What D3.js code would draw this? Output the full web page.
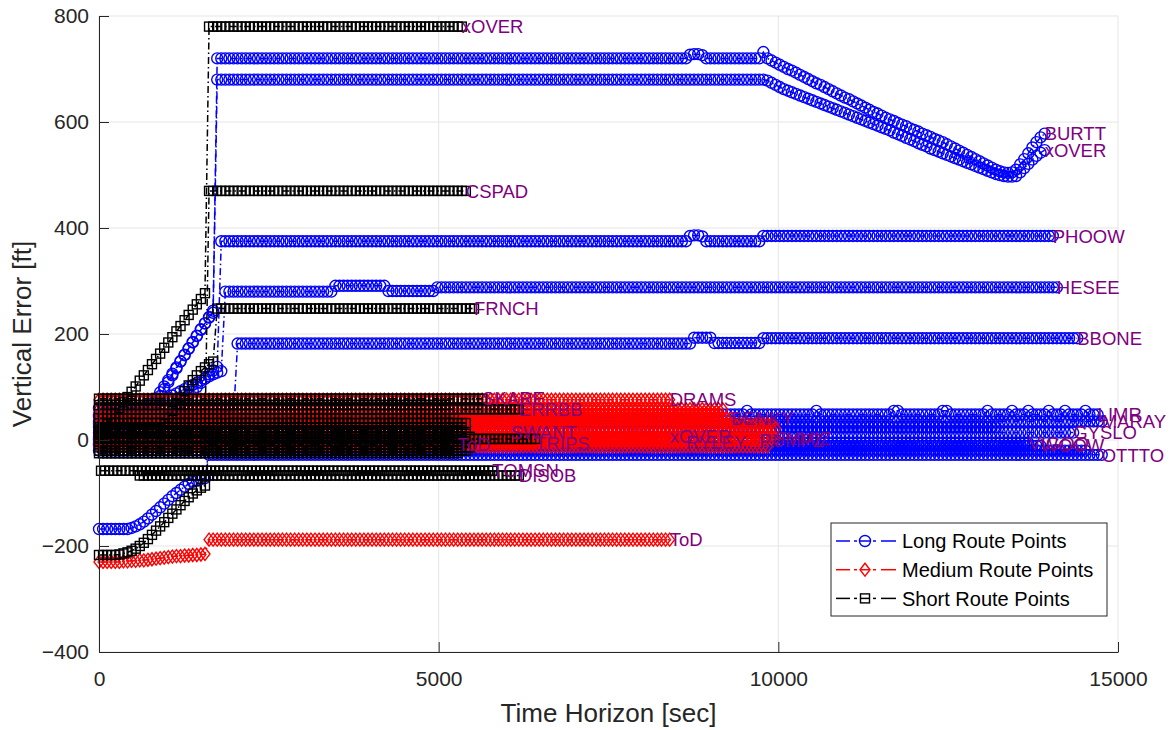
<!DOCTYPE html>
<html><head><meta charset="utf-8">
<script src="https://cdn.jsdelivr.net/npm/d3@7"></script>
<style>body{margin:0;background:#fff} text{font-family:"Liberation Sans",Arial,Helvetica,sans-serif}</style>
</head><body><svg id="c" width="1175" height="730"></svg>
<script>
// ---------- ticks & labels ----------
const xTicks = [0, 5000, 10000, 15000];
const yTicks = [-400, -200, 0, 200, 400, 600, 800];
const xTitle = "Time Horizon [sec]";
const yTitle = "Vertical Error [ft]";
const routeNames = ["Long Route Points", "Medium Route Points", "Short Route Points"];

// ---------- series values (numbers = one sample, [value, untilTime] = repeated samples) ----------
// Long route
const longBURTT = [[5,480],12,22,33,45,57,70,83,96,109,122,135,148,160,172,184,196,208,220,232,244,[720,8640],727,728,728,726,[720,9720],732,720,716,712,708,704,700,697,693,689,685,681,677,673,670,666,662,658,654,650,646,643,639,635,631,627,623,619,616,612,608,605,602,598,595,592,588,585,582,578,575,572,568,565,562,558,554,550,546,542,538,534,530,526,522,518,514,510,507,505,504,505,510,520,530,541,552,562,571,578];
const longXOVER = [[0,240],4,9,15,22,30,39,48,58,68,79,90,101,113,125,137,149,161,173,185,197,209,220,231,240,[680,9780],678,674,670,666,662,659,656,653,650,647,644,641,638,635,632,629,626,623,620,617,614,611,608,605,602,599,596,593,590,587,584,580,577,574,570,567,564,560,557,554,550,547,544,541,538,535,532,529,526,523,520,517,514,511,508,505,502,500,498,497,497,498,505,513,521,529,536,542,547];
const longPHOOW = [[30,780],34,38,43,49,55,62,69,76,84,92,100,108,116,124,131,138,[375,8640],385,386,386,384,[375,9720],[385,14040]];
const longHESEE = [[60,600],62,64,67,70,73,76,80,84,88,92,96,100,104,108,112,116,120,124,127,130,[280,3420],[291,4200],[281,4920],[288,14100]];
const longBBONE = [[45,1980],[182,8700],[193,9000],[183,9720],[192,14400]];
const longOTTTO = [[-168,420],-166,-163,-159,-154,-148,-141,-134,-127,-120,-113,-106,-100,-94,-88,-83,-79,-76,-74,-72,[-28,14760]];
const longLIMR = [[48,8340],55,[48,9480],55,[48,10500],55,[48,11640],55,55,[48,12360],55,55,[48,13020],55,[48,13380],55,[48,13620],55,[48,13920],55,[48,14160],55,[48,14460],55,[48,14700]];
const longMARAY = [[35,14760]];
const longGYSLO = [[14,14340]];
const longVIGOO = [[-6,13680]];
const longWOOW = [[-11,13860]];
const longU1 = [[24,13200]];
const longU2 = [[-20,14520]];

// Medium route
const medToD = [[-230,300],-229,-229,-228,-228,-227,-227,-226,-225,-224,-223,-222,-221,-220,-219,-219,-218,-218,-217,-217,-216,-215,[-188,8400]];
const medDRAMS = [[76,8400]];
const medBENKY = [[40,9300]];
const medU58 = [[58,9180]];
const medU50 = [[50,9120]];
const medU30 = [[30,9900]];
const medU22 = [[22,9960]];
const medXOVER = [[6,8400]];
const medRYLEY = [[-4,8640]];
const medPUMPZ = [[0,9720]];
const medFYMIZ = [[3,9960]];
const medSWANT = [[14,6060]];
const medTRIPS = [[-6,6420]];
const medU12 = [[-12,9840]];

// Short route
const shortXOVER = [10,20,30,40,50,60,71,81,91,101,112,122,132,143,153,163,174,184,194,205,215,226,236,246,256,266,277,[780,5340]];
const shortCSPAD = [[15,1560],[470,5400]];
const shortFRNCH = [[20,900],30,42,55,68,80,92,103,113,122,130,137,143,148,[248,5520]];
const shortSKARE = [[78,5640]];
const shortERRBB = [[58,6180]];
const shortToD = [[-217,240],-216,-214,-212,-209,-205,-200,-194,-187,-179,-171,-163,-155,-147,-139,-131,-123,-115,-108,-101,-95,-90,-86,[-9,5280]];
const shortTOMSN = [[-58,5790]];
const shortDISOB = [[-67,6180]];
const shortU41 = [[41,5220]];
const shortU32 = [[32,5400]];
const shortU24 = [[24,5340]];
const shortU18 = [[18,5340]];
const shortU12 = [[12,5400]];
const shortU6 = [[6,5460]];
const shortU2 = [[2,6420]];
const shortU3n = [[-3,5340]];
const shortU14n = [[-14,5460]];
const shortU20n = [[-20,5400]];
const shortU25n = [[-25,5280]];
const shortU66 = [[66,5100]];

// table: [route index, label, start time, sample step, values]
const seriesTable = [
  [0,"BURTT",0,60,longBURTT],[0,"xOVER",0,60,longXOVER],[0,"PHOOW",0,60,longPHOOW],
  [0,"HESEE",0,60,longHESEE],[0,"BBONE",0,60,longBBONE],[0,"OTTTO",0,60,longOTTTO],
  [0,"LIMR",0,60,longLIMR],[0,"MARAY",0,60,longMARAY],[0,"GYSLO",0,60,longGYSLO],
  [0,"VIGOO",0,60,longVIGOO],[0,"WOOW",0,60,longWOOW],[0,"",0,60,longU1],[0,"",0,60,longU2],
  [1,"ToD",0,60,medToD],[1,"DRAMS",0,60,medDRAMS],[1,"BENKY",0,60,medBENKY],[1,"",0,60,medU58],
  [1,"",0,60,medU50],[1,"",0,60,medU30],[1,"",0,60,medU22],[1,"xOVER",0,60,medXOVER],
  [1,"RYLEY",0,60,medRYLEY],[1,"PUMPZ",0,60,medPUMPZ],[1,"FYMIZ",0,60,medFYMIZ],
  [1,"SWANT",0,60,medSWANT],[1,"TRIPS",0,60,medTRIPS],[1,"",0,60,medU12],
  [2,"xOVER",0,60,shortXOVER],[2,"CSPAD",0,60,shortCSPAD],[2,"FRNCH",0,60,shortFRNCH],
  [2,"SKARE",0,60,shortSKARE],[2,"ERRBB",0,60,shortERRBB],[2,"",0,60,shortU66],[2,"",0,60,shortU41],
  [2,"",0,60,shortU32],[2,"",0,60,shortU24],[2,"",0,60,shortU18],[2,"",0,60,shortU12],[2,"",0,60,shortU6],
  [2,"",0,60,shortU2],[2,"",0,60,shortU3n],[2,"",0,60,shortU14n],[2,"",0,60,shortU20n],[2,"",0,60,shortU25n],
  [2,"ToD",0,60,shortToD],[2,"TOMSN",30,60,shortTOMSN],[2,"DISOB",600,60,shortDISOB]
];

function expand(t0, dt, vals){
  const pts=[]; let t=t0;
  for(const e of vals){
    if(Array.isArray(e)){ while(t<=e[1]+1e-6){ pts.push([t,e[0]]); t+=dt; } }
    else { pts.push([t,e]); t+=dt; }
  }
  return pts;
}

// ---------- styles ----------
const colors = ["#0000ff","#ff0000","#000000"];
const labelColor = "#7f007f";
const axisColor = "#262626";
const gridColor = "#e5e5e5";
const dash = "7,3,1.5,3";
const M = {l:99, r:1118, t:16, b:652};

const svg = d3.select("#c");
const x = d3.scaleLinear().domain([0,15000]).range([M.l,M.r]);
const y = d3.scaleLinear().domain([-400,800]).range([M.b,M.t]);

// grid
const g = svg.append("g");
g.selectAll(".gx").data(xTicks).join("line").attr("x1",d=>x(d)).attr("x2",d=>x(d))
  .attr("y1",M.t).attr("y2",M.b).attr("stroke",gridColor).attr("stroke-width",1);
g.selectAll(".gy").data(yTicks).join("line").attr("y1",d=>y(d)).attr("y2",d=>y(d))
  .attr("x1",M.l).attr("x2",M.r).attr("stroke",gridColor).attr("stroke-width",1);

function marker(sel, route, color){
  if(route===0){
    sel.append("circle").attr("r",5.5).attr("fill","none").attr("stroke",color).attr("stroke-width",1.4);
  } else if(route===1){
    sel.append("path").attr("d","M0,-6.5L5,0L0,6.5L-5,0Z").attr("fill","none").attr("stroke",color).attr("stroke-width",1.4);
  } else {
    sel.append("rect").attr("x",-4.5).attr("y",-4.5).attr("width",9).attr("height",9).attr("fill","none").attr("stroke",color).attr("stroke-width",1.4);
  }
}

const line = d3.line().x(d=>x(d[0])).y(d=>y(d[1]));
const plotG = svg.append("g");
const labels = [];
for(const r of [0,1,2]){
  for(const s of seriesTable.filter(s=>s[0]===r)){
    const pts = expand(s[2], s[3], s[4]);
    const sg = plotG.append("g");
    sg.append("path").attr("d",line(pts)).attr("fill","none").attr("stroke",colors[r])
      .attr("stroke-width",1.5).attr("stroke-dasharray",dash);
    sg.selectAll("g").data(pts).join("g")
      .attr("transform",d=>`translate(${x(d[0])},${y(d[1])})`)
      .each(function(){ marker(d3.select(this), r, colors[r]); });
    if(s[1]) labels.push([s[1], pts[pts.length-1]]);
  }
}
svg.append("g").selectAll("text").data(labels).join("text")
  .attr("x",d=>x(d[1][0])).attr("y",d=>y(d[1][1])).attr("dy","0.36em")
  .attr("fill",labelColor).attr("font-size",18.5).text(d=>d[0]);

// axes
const ax = svg.append("g").attr("transform",`translate(0,${M.b})`)
  .call(d3.axisBottom(x).tickValues(xTicks).tickSizeInner(-10).tickSizeOuter(0).tickPadding(19).tickFormat(d3.format("d")));
const ay = svg.append("g").attr("transform",`translate(${M.l},0)`)
  .call(d3.axisLeft(y).tickValues(yTicks).tickSizeInner(-10).tickSizeOuter(0).tickPadding(10).tickFormat(d3.format("d")));
for(const a of [ax,ay]){
  a.select(".domain").attr("stroke",axisColor).attr("stroke-width",1);
  a.selectAll(".tick line").attr("stroke",axisColor);
  a.selectAll(".tick text").attr("fill",axisColor).attr("font-size",21).attr("font-family",'"Liberation Sans",Arial,sans-serif');
}
svg.append("text").attr("x",(M.l+M.r)/2).attr("y",722).attr("text-anchor","middle")
  .attr("font-size",26).attr("fill",axisColor).text(xTitle);
svg.append("text").attr("transform",`translate(31,${(M.t+M.b)/2}) rotate(-90)`).attr("text-anchor","middle")
  .attr("font-size",26).attr("fill",axisColor).text(yTitle);

// legend
const lg = svg.append("g");
lg.append("rect").attr("x",831).attr("y",523).attr("width",276).attr("height",93)
  .attr("fill","#fff").attr("stroke",axisColor).attr("stroke-width",1);
routeNames.forEach((n,i)=>{
  const yy = 541 + i*28.7;
  const c = colors[i];
  const e = lg.append("g");
  [[836,850],[854,857],[873,876],[881,896],[860,870]].forEach(s=>
    e.append("line").attr("x1",s[0]).attr("x2",s[1]).attr("y1",yy).attr("y2",yy).attr("stroke",c).attr("stroke-width",1.5));
  const m = e.append("g").attr("transform",`translate(865,${yy})`);
  marker(m, i, c);
  e.append("text").attr("x",902).attr("y",yy).attr("dy","0.36em").attr("font-size",20).attr("fill","#000").text(n);
});
</script></body></html>
